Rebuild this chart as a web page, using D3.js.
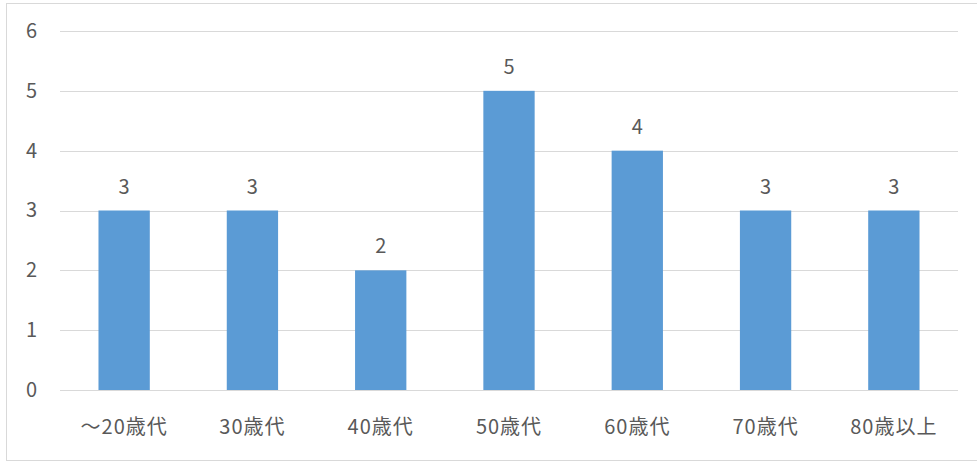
<!DOCTYPE html>
<html>
<head>
<meta charset="utf-8">
<script src="https://cdn.jsdelivr.net/npm/d3@7"></script>
<style>
  html, body { margin: 0; padding: 0; background: #fff; }
  svg { display: block; }
  text { font-family: "Noto Sans CJK JP", "Noto Sans", sans-serif; fill: #595959; }
</style>
</head>
<body>
<svg id="chart" width="977" height="462"></svg>
<script>
// Age groups and counts
const categories = ["〜20歳代", "30歳代", "40歳代", "50歳代", "60歳代", "70歳代", "80歳以上"];
const values = [3, 3, 2, 5, 4, 3, 3];
const yTicks = [0, 1, 2, 3, 4, 5, 6];

const W = 977, H = 462;
const margin = { left: 60, right: 19, top: 31, bottom: 72 };
const svg = d3.select("#chart");

// Outer chart frame
svg.append("rect")
  .attr("x", 6.5).attr("y", 3.5)
  .attr("width", W + 10).attr("height", H - 5)
  .attr("fill", "none").attr("stroke", "#d9d9d9").attr("stroke-width", 1);

const x = d3.scaleBand()
  .domain(categories)
  .range([margin.left, W - margin.right])
  .paddingInner(0.6)
  .paddingOuter(0.3);

const y = d3.scaleLinear()
  .domain([0, 6])
  .range([H - margin.bottom, margin.top]);

// Horizontal gridlines
svg.append("g")
  .selectAll("line")
  .data(yTicks)
  .join("line")
  .attr("x1", margin.left).attr("x2", W - margin.right)
  .attr("y1", d => Math.round(y(d)) + 0.5).attr("y2", d => Math.round(y(d)) + 0.5)
  .attr("stroke", "#d9d9d9").attr("stroke-width", 1);

// Y axis labels
const yAxis = d3.axisLeft(y).tickValues(yTicks).tickSize(0).tickPadding(0).tickFormat(d3.format("d"));
const gy = svg.append("g").attr("transform", `translate(37,0)`).call(yAxis);
gy.select(".domain").remove();
gy.selectAll("text").attr("font-size", 20).attr("fill", "#595959")
  .style("font-family", "\"Noto Sans CJK JP\", sans-serif");

// Bars
svg.append("g")
  .selectAll("rect")
  .data(values)
  .join("rect")
  .attr("x", (d, i) => x(categories[i]))
  .attr("y", d => y(d))
  .attr("width", x.bandwidth())
  .attr("height", d => y(0) - y(d))
  .attr("fill", "#5b9bd5");

// Value labels
svg.append("g")
  .selectAll("text")
  .data(values)
  .join("text")
  .attr("x", (d, i) => x(categories[i]) + x.bandwidth() / 2)
  .attr("y", d => y(d) - 17)
  .attr("text-anchor", "middle")
  .attr("font-size", 20)
  .attr("fill", "#404040")
  .text(d => d);

// X axis labels
const xAxis = d3.axisBottom(x).tickSize(0).tickPadding(0);
const gx = svg.append("g").attr("transform", `translate(0,${H - margin.bottom})`).call(xAxis);
gx.select(".domain").remove();
gx.selectAll("text").attr("font-size", 20).attr("fill", "#595959")
  .attr("dy", 0).attr("y", 44)
  .style("letter-spacing", "1px")
  .style("font-family", "\"Noto Sans CJK JP\", sans-serif");
</script>
</body>
</html>
